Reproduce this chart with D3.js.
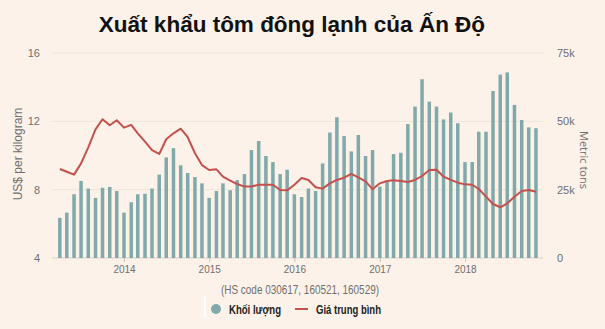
<!DOCTYPE html>
<html>
<head>
<meta charset="utf-8">
<script src="https://cdn.jsdelivr.net/npm/d3@7"></script>
<style>
  html, body { margin: 0; padding: 0; background: #fcf2e9; }
  svg { display: block; font-family: "Liberation Sans", Arial, sans-serif; }
</style>
</head>
<body>
<svg id="chart" width="605" height="329"></svg>
<script>
// Monthly shipments, April 2013 – November 2018
const startMonth = [2013, 3]; // year, zero-based month of the first value

// Export volume, thousand metric tons
const volumeK = [
  14.7, 16.6, 23.3, 28.2, 25.4, 22.0, 25.7, 26.0, 24.5,
  16.6, 20.4, 23.3, 23.5, 25.4, 30.5, 36.8, 40.2, 33.9, 31.1, 29.6, 27.3,
  22.0, 24.5, 27.3, 24.8, 28.5, 30.7, 39.5, 42.8, 37.3, 35.1, 30.7, 32.3,
  23.3, 22.3, 25.4, 24.5, 34.6, 45.9, 51.5, 44.6, 39.0, 45.0, 37.3, 39.5,
  26.1, 27.9, 38.0, 38.5, 49.0, 55.4, 65.4, 57.2, 55.4, 50.7, 53.2, 49.3,
  35.1, 35.1, 46.2, 46.2, 61.1, 67.1, 67.9, 56.0, 50.5, 47.8, 47.5
];

// Average price, US$ per kilogram
const price = [
  9.21, 9.05, 8.88, 9.54, 10.48, 11.53, 12.12, 11.77, 12.06,
  11.63, 11.79, 11.30, 10.81, 10.32, 10.09, 10.95, 11.30, 11.57, 11.07, 10.13, 9.44,
  9.15, 9.19, 8.76, 8.53, 8.33, 8.18, 8.18, 8.29, 8.29, 8.29, 7.98, 7.96,
  8.29, 8.68, 8.57, 8.14, 8.06, 8.37, 8.57, 8.70, 8.92, 8.72, 8.49, 8.02,
  8.37, 8.51, 8.55, 8.51, 8.45, 8.57, 8.80, 9.15, 9.17, 8.76, 8.57, 8.41,
  8.31, 8.29, 8.04, 7.59, 7.16, 6.97, 7.20, 7.59, 7.92, 7.98, 7.88
];

const priceTicks = [4, 8, 12, 16];
const volumeTicks = [0, 25, 50, 75];
const yearTicks = [2014, 2015, 2016, 2017, 2018];

const titleText = "Xuất khẩu tôm đông lạnh của Ấn Độ";
const noteText = "(HS code 030617, 160521, 160529)";
const legendVolume = "Khối lượng";
const legendPrice = "Giá trung bình";

const months = volumeK.map((_, i) => new Date(startMonth[0], startMonth[1] + i, 1));
const rows = months.map((d, i) => ({ date: d, vol: volumeK[i], price: price[i] }));

const svg = d3.select("#chart");
const plot = { left: 52, right: 543, top: 53, bottom: 258 };

const x = d3.scaleTime()
  .domain([new Date(2014, 0, 1), new Date(2018, 0, 1)])
  .range([124, 465]);
const yPrice = d3.scaleLinear().domain([4, 16]).range([plot.bottom, plot.top]);
const yVol = d3.scaleLinear().domain([0, 75]).range([plot.bottom, plot.top]);

const barColor = "#80a9aa";
const lineColor = "#c4514d";
const textGray = "#6f6f6f";
const font = "Liberation Sans, Arial, sans-serif";

// Title
svg.append("text")
  .attr("x", 292).attr("y", 32)
  .attr("text-anchor", "middle")
  .attr("font-size", 22.5).attr("font-weight", "bold")
  .attr("fill", "#111")
  .text(titleText);

// Horizontal gridlines
svg.append("g")
  .selectAll("line")
  .data(priceTicks)
  .join("line")
  .attr("x1", plot.left).attr("x2", plot.right)
  .attr("y1", d => yPrice(d)).attr("y2", d => yPrice(d))
  .attr("stroke", d => d === 4 ? "#d9d2cb" : "#ece4dc")
  .attr("stroke-width", 1);

// Left axis (price)
const leftAxis = svg.append("g")
  .attr("transform", `translate(${plot.left},0)`)
  .call(d3.axisLeft(yPrice).tickValues(priceTicks).tickSize(0).tickPadding(12));
leftAxis.select(".domain").remove();
leftAxis.selectAll("text").attr("font-size", 11).attr("fill", textGray).attr("font-family", font);

// Right axis (volume)
const rightAxis = svg.append("g")
  .attr("transform", `translate(${plot.right},0)`)
  .call(d3.axisRight(yVol).tickValues(volumeTicks).tickSize(0).tickPadding(14)
    .tickFormat(d => d === 0 ? "0" : d + "k"));
rightAxis.select(".domain").remove();
rightAxis.selectAll("text").attr("font-size", 11).attr("fill", textGray).attr("font-family", font);

// Bottom axis (years)
const bottomAxis = svg.append("g")
  .attr("transform", `translate(0,${plot.bottom})`)
  .call(d3.axisBottom(x).tickValues(yearTicks.map(y => new Date(y, 0, 1)))
    .tickSize(4).tickPadding(4).tickFormat(d3.timeFormat("%Y")));
bottomAxis.select(".domain").remove();
bottomAxis.selectAll("line").attr("stroke", "#c8c2bc");
bottomAxis.selectAll("text").attr("font-size", 10).attr("fill", textGray).attr("font-family", font);

// Axis titles
svg.append("text")
  .attr("transform", "translate(22,154) rotate(-90)")
  .attr("text-anchor", "middle")
  .attr("font-size", 12).attr("fill", textGray)
  .text("US$ per kilogram");
svg.append("text")
  .attr("transform", "translate(580,160) rotate(90)")
  .attr("text-anchor", "middle")
  .attr("font-size", 11).attr("fill", textGray)
  .attr("font-family", "Open Sans, sans-serif")
  .text("Metric tons");

// Volume bars
const barW = 3.5;
svg.append("g")
  .selectAll("rect")
  .data(rows)
  .join("rect")
  .attr("x", d => x(d.date) - barW / 2)
  .attr("width", barW)
  .attr("y", d => yVol(d.vol))
  .attr("height", d => yVol(0) - yVol(d.vol))
  .attr("fill", barColor);

// Average price line
svg.append("path")
  .datum(rows)
  .attr("fill", "none")
  .attr("stroke", lineColor)
  .attr("stroke-width", 2)
  .attr("stroke-linejoin", "round")
  .attr("d", d3.line().x(d => x(d.date)).y(d => yPrice(d.price)));

// Note under the axis
svg.append("text")
  .attr("x", 300).attr("y", 294)
  .attr("text-anchor", "middle")
  .attr("font-size", 12).attr("fill", textGray)
  .attr("textLength", 158).attr("lengthAdjust", "spacingAndGlyphs")
  .text(noteText);

// Legend
const legend = svg.append("g").attr("transform", "translate(0,314)");
legend.append("line")
  .attr("x1", 205).attr("x2", 205).attr("y1", -18).attr("y2", 4)
  .attr("stroke", "#ffffff").attr("stroke-width", 1.5);
legend.append("circle")
  .attr("cx", 216).attr("cy", -5).attr("r", 5)
  .attr("fill", barColor);
legend.append("text")
  .attr("x", 229).attr("y", 0)
  .attr("font-size", 12.5).attr("font-weight", "bold").attr("fill", "#222")
  .attr("textLength", 52).attr("lengthAdjust", "spacingAndGlyphs")
  .text(legendVolume);
legend.append("line")
  .attr("x1", 295).attr("x2", 308).attr("y1", -5).attr("y2", -5)
  .attr("stroke", lineColor).attr("stroke-width", 2);
legend.append("text")
  .attr("x", 316).attr("y", 0)
  .attr("font-size", 12.5).attr("font-weight", "bold").attr("fill", "#222")
  .attr("textLength", 65).attr("lengthAdjust", "spacingAndGlyphs")
  .text(legendPrice);
</script>
</body>
</html>
